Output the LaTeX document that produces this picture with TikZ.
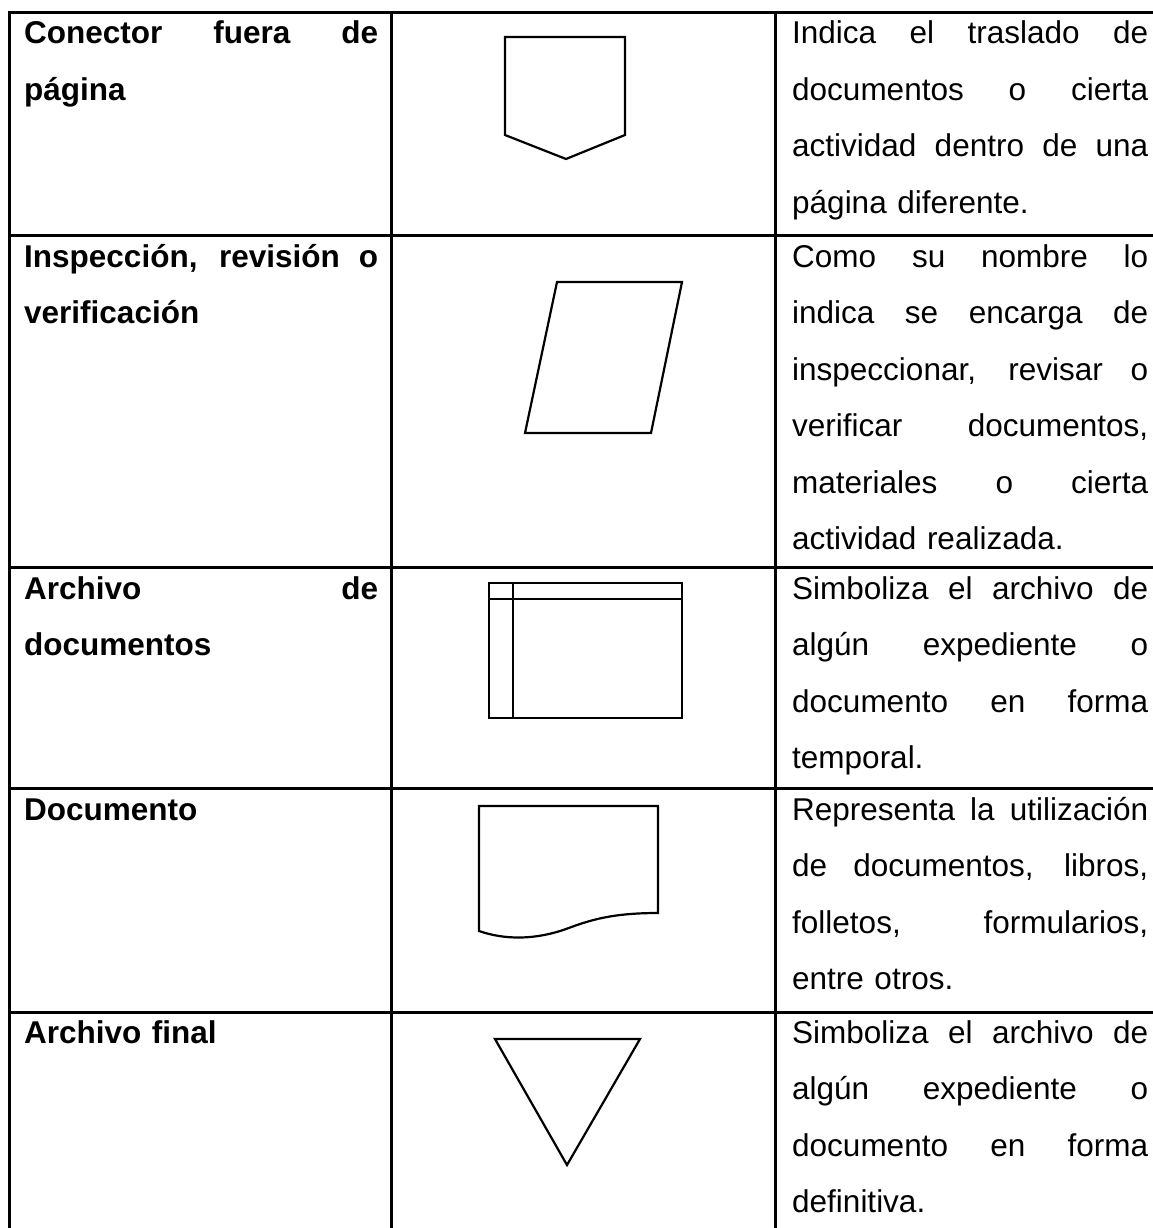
\documentclass[tikz,border=0pt]{standalone}
\usepackage{fontspec}
\setmainfont{Liberation Sans}
\usepackage{xcolor}
\usepackage{tikz}
\usetikzlibrary{positioning}

\newlength{\colw}
\newcommand{\fillline}[1]{\makebox[\colw][s]{\spaceskip=0.278em plus 1fil\relax #1}}

\begin{document}
\begin{tikzpicture}[
    x=1pt, y=-1pt,
    grid/.style={line width=3pt},
    symb/.style={line width=2.2pt, line join=miter},
    cell/.style={anchor=base west, inner sep=0pt, align=left, text width=#1,
      execute at begin node={\setlength{\colw}{#1}},
      font=\fontsize{31.5}{56.5}\selectfont},
    cell/.default=354pt,
    namecell/.style={cell, font=\fontsize{31.5}{56.5}\selectfont\bfseries}
  ]
    \useasboundingbox (0,0) rectangle (1153,1228);
    \clip (0,0) rectangle (1153,1228);

    % table rules
    \draw[grid] (9,13) -- (1170,13);
    \foreach \y in {235,567,788,1012}
      \draw[grid] (9,\y) -- (1170,\y);
    \foreach \x in {9,391,775}
      \draw[grid] (\x,11.5) -- (\x,1240);

    % first column
    \node[namecell] (conectorName) at (24,44) {\fillline{Conector fuera de}\\página};
    \node[namecell] (inspeccionName) at (24,267) {\fillline{Inspección, revisión o}\\verificación};
    \node[namecell] (archivoDocName) at (24,599) {\fillline{Archivo de}\\documentos};
    \node[namecell] (documentoName) at (24,820) {Documento};
    \node[namecell] (archivoFinName) at (24,1043) {Archivo final};

    % symbols
    \draw[symb] (505,37) -- (625,37) -- (625,135) -- (566,159) -- (505,135) -- cycle;
    \draw[symb] (557,282) -- (682,282) -- (651,433) -- (525,433) -- cycle;
    \draw[symb] (489,583) rectangle (682,718);
    \draw[symb] (513,583) -- (513,718);
    \draw[symb] (489,599) -- (682,599);
    \draw[symb] (479,931) -- (479,806) -- (658,806) -- (658,913)
      .. controls (612,913) and (590,920) .. (566,929)
      .. controls (535,940) and (505,940) .. (479,931) -- cycle;
    \draw[symb] (495,1039) -- (640,1039) -- (567,1165) -- cycle;

    % third column
    \node[cell=356pt] (conectorDesc) at (792,44) {\fillline{Indica el traslado de}\\
      \fillline{documentos o cierta}\\
      \fillline{actividad dentro de una}\\
      página diferente.};
    \node[cell=356pt] (inspeccionDesc) at (792,267) {\fillline{Como su nombre lo}\\
      \fillline{indica se encarga de}\\
      \fillline{inspeccionar, revisar o}\\
      \fillline{verificar documentos,}\\
      \fillline{materiales o cierta}\\
      actividad realizada.};
    \node[cell=356pt] (archivoDocDesc) at (792,599) {\fillline{Simboliza el archivo de}\\
      \fillline{algún expediente o}\\
      \fillline{documento en forma}\\
      temporal.};
    \node[cell=356pt] (documentoDesc) at (792,820) {\fillline{Representa la utilización}\\
      \fillline{de documentos, libros,}\\
      \fillline{folletos, formularios,}\\
      entre otros.};
    \node[cell=356pt] (archivoFinDesc) at (792,1043) {\fillline{Simboliza el archivo de}\\
      \fillline{algún expediente o}\\
      \fillline{documento en forma}\\
      definitiva.};
  \end{tikzpicture}
\end{document}
